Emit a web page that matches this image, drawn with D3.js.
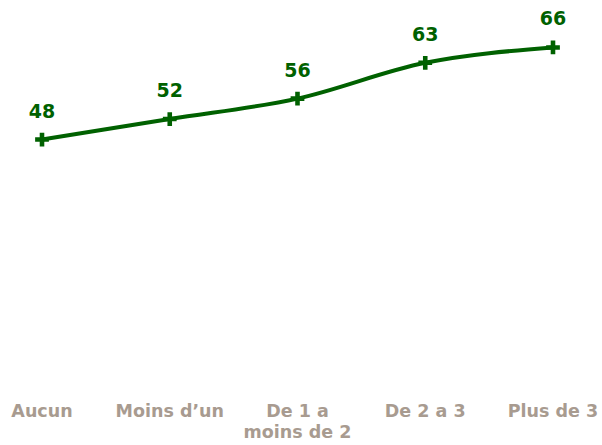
<!DOCTYPE html>
<html>
<head>
<meta charset="utf-8">
<script src="https://cdn.jsdelivr.net/npm/d3@7"></script>
<style>
  body { margin: 0; background: #fff; }
  text { font-family: "DejaVu Sans", Verdana, sans-serif; font-weight: bold; }
</style>
</head>
<body>
<div id="chart"></div>
<script>
var width = 602, height = 445;

// data
const categories = ["Aucun", "Moins d\u2019un", "De 1 a|moins de 2", "De 2 a 3", "Plus de 3"];
const values = [48, 52, 56, 63, 66];

const svg = d3.select("#chart").append("svg")
    .attr("width", width)
    .attr("height", height);

const x = d3.scalePoint()
    .domain(categories)
    .range([42, 553]);

const y = d3.scaleLinear()
    .domain([0, 70])
    .range([385, 27]);

const line = d3.line()
    .x(function(d, i) { return x(categories[i]); })
    .y(function(d) { return y(d); })
    .curve(d3.curveMonotoneX);

svg.append("path")
    .datum(values)
    .attr("fill", "none")
    .attr("stroke", "#006100")
    .attr("stroke-width", 4)
    .attr("d", line);

// markers
svg.selectAll("path.marker")
    .data(values)
    .join("path")
    .attr("class", "marker")
    .attr("transform", function(d, i) { return "translate(" + x(categories[i]) + "," + y(d) + ")"; })
    .attr("d", d3.symbol().type(d3.symbolCross).size(105))
    .attr("fill", "#006100");

// value labels
svg.selectAll("text.val")
    .data(values)
    .join("text")
    .attr("class", "val")
    .attr("x", function(d, i) { return x(categories[i]); })
    .attr("y", function(d) { return y(d) - 22; })
    .attr("text-anchor", "middle")
    .attr("font-size", 19)
    .attr("fill", "#006100")
    .text(function(d) { return d; });

// category labels
const xl = svg.selectAll("text.cat")
    .data(categories)
    .join("text")
    .attr("class", "cat")
    .attr("x", function(d) { return x(d); })
    .attr("y", 417)
    .attr("text-anchor", "middle")
    .attr("font-size", 17.5)
    .attr("fill", "#a89b90");

xl.each(function(d) {
  var parts = d.split("|");
  var t = d3.select(this);
  parts.forEach(function(p, k) {
    t.append("tspan")
      .attr("x", x(d))
      .attr("dy", k == 0 ? 0 : 21)
      .text(p);
  });
});
</script>
</body>
</html>
